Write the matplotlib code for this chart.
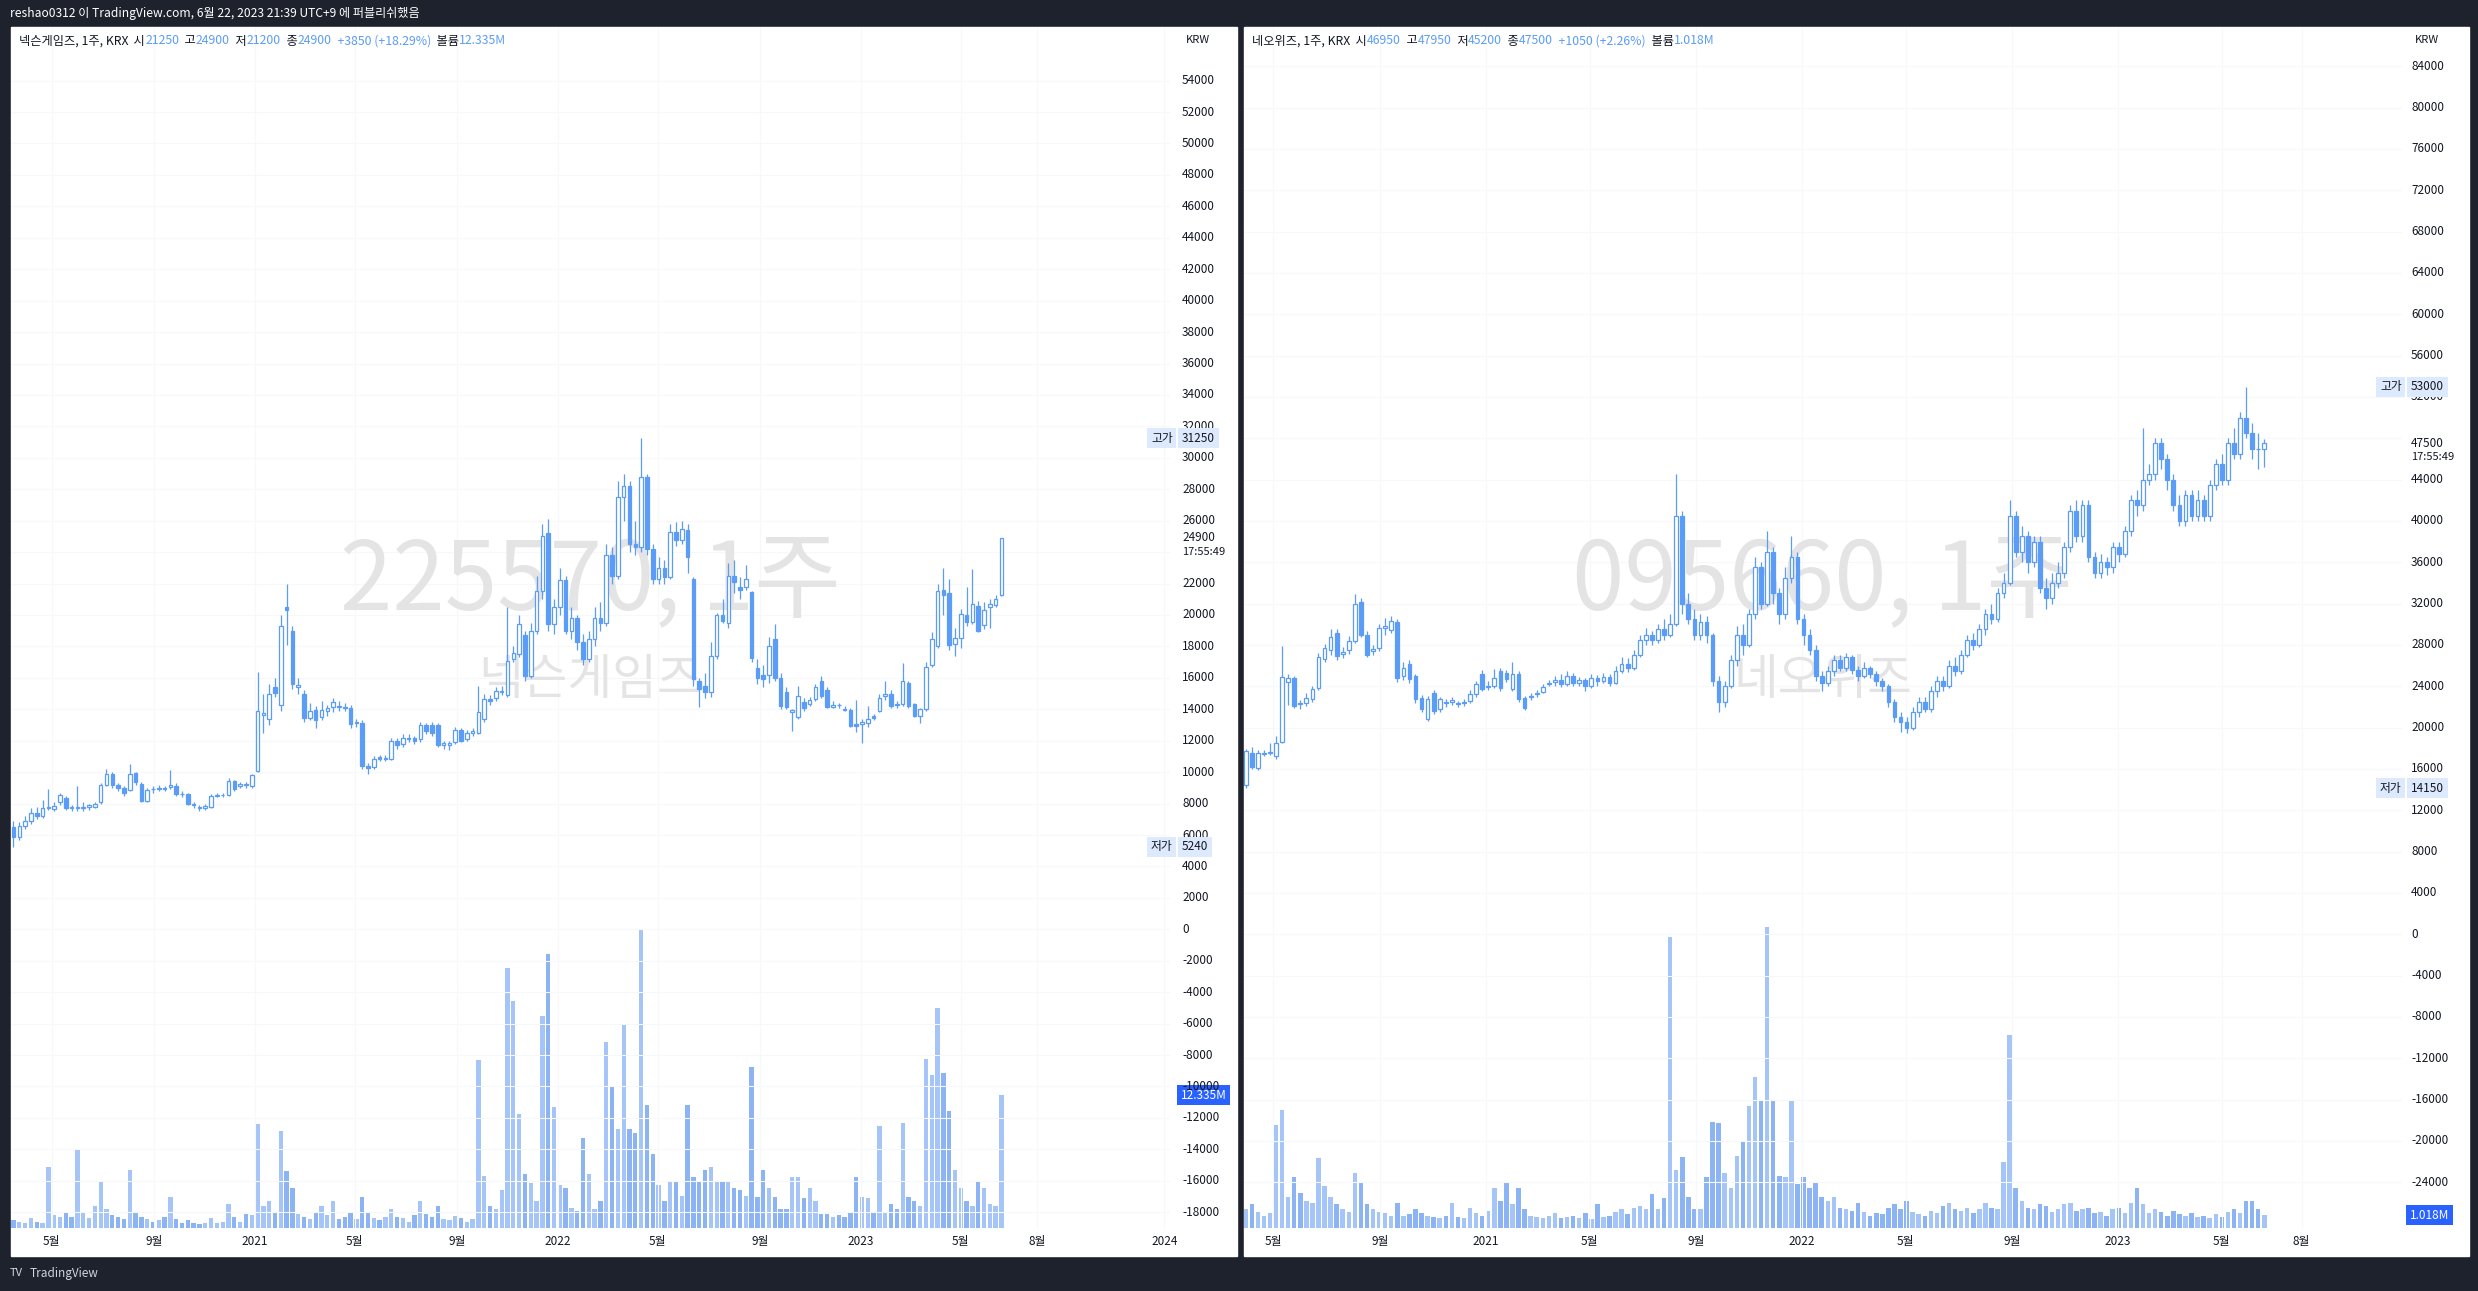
import matplotlib
matplotlib.use("Agg")
import matplotlib.pyplot as plt
import matplotlib.dates as mdates
from matplotlib.patches import Rectangle
from matplotlib.transforms import IdentityTransform
import numpy as np
import pandas as pd

plt.rcParams['font.family'] = ['Noto Sans CJK KR', 'DejaVu Sans']

# ---------------- 넥슨게임즈 (225570) 주봉 ----------------
l_open = [6500, 5900, 6600, 6900, 7400, 7200, 7700, 7650, 8070, 8380, 7750, 7700, 7700, 7800, 7800, 8100,
          9190, 9910, 9200, 9000, 8880, 9920, 9240, 8190, 8930, 8950, 9000, 9050, 9120, 8620, 8600, 7950,
          7800, 7700, 7800, 8500, 8550, 8550, 9440, 9100, 9250, 9100, 10050, 13650, 13350, 15400, 14270, 20500,
          19000, 15400, 15000, 13460, 13960, 13480, 13900, 14130, 14200, 14150, 14100, 13100, 13150, 10370, 10330, 10950,
          10850, 10850, 12000, 11770, 12100, 12200, 12100, 13000, 13000, 13000, 11750, 11750, 11900, 12700, 12100, 12500,
          12500, 13350, 14650, 14700, 15100, 14930, 17170, 17500, 18700, 16100, 19000, 21500, 25200, 19400, 20500, 22200,
          19000, 19800, 18300, 17200, 18500, 19800, 19500, 23800, 22500, 27500, 28200, 24500, 24300, 28800, 24200, 22300,
          23000, 22400, 25300, 24800, 25400, 22300, 15800, 15450, 15100, 17400, 20000, 19500, 22500, 21800, 21800, 21460,
          16600, 16200, 16200, 18500, 16000, 15100, 13850, 13540, 14480, 14360, 14630, 15830, 15200, 14170, 14300, 14000,
          13940, 13050, 13050, 13100, 13550, 13900, 14850, 15000, 14310, 14360, 15680, 14310, 13580, 14040, 16840, 18000,
          21580, 21430, 18150, 18530, 20000, 19580, 20570, 19370, 20500, 20630, 21250]
l_high = [6900, 6800, 7200, 7700, 7800, 8200, 8950, 8100, 8700, 8500, 7900, 9100, 8100, 8000, 8100, 9300,
          10200, 10000, 9300, 9100, 10500, 10000, 9400, 9000, 9100, 9200, 9100, 10150, 9300, 8800, 8700, 8100,
          7900, 8000, 8600, 8700, 8700, 9600, 9500, 9400, 9400, 9900, 16400, 15000, 15600, 16000, 20000, 22000,
          19300, 16000, 15200, 14400, 14200, 14500, 14300, 14700, 14500, 14400, 14300, 13400, 13300, 10600, 11000, 11100,
          11100, 12200, 12200, 12400, 12400, 12300, 13200, 13100, 13200, 13100, 12000, 12000, 12900, 12800, 12700, 12800,
          15500, 15000, 14900, 15400, 15500, 20500, 18000, 20000, 19000, 19500, 22500, 25800, 26100, 21000, 23000, 22500,
          20500, 20000, 18800, 19000, 20500, 20800, 24500, 24300, 28500, 29000, 28500, 26000, 31250, 29000, 24500, 23700,
          23500, 25800, 25900, 26000, 25800, 22400, 16000, 16300, 18300, 20100, 21000, 23300, 23500, 22400, 23200, 21500,
          17200, 16800, 18600, 19400, 16300, 15400, 14000, 15500, 14700, 14800, 15600, 16100, 15400, 14500, 14400, 14200,
          14100, 14600, 13400, 14200, 13700, 15000, 15800, 15200, 14500, 16950, 15800, 14400, 14100, 17000, 18900, 22000,
          23000, 22300, 19200, 20400, 21800, 22900, 20900, 20800, 21000, 21300, 24900]
l_low = [5240, 5700, 6400, 6700, 7000, 7100, 7600, 7500, 7900, 7600, 7500, 7500, 7500, 7600, 7700, 8000,
         9100, 9000, 8800, 8500, 8800, 9200, 8100, 8100, 8700, 8800, 8800, 8900, 8500, 8400, 7900, 7700,
         7500, 7600, 7700, 8400, 8400, 8500, 8800, 9000, 9000, 9000, 10000, 12500, 13000, 14800, 13900, 18100,
         15300, 15000, 13200, 13300, 12800, 13300, 13600, 13800, 13900, 13900, 12800, 12900, 10200, 9900, 10200, 10700,
         10700, 10800, 11500, 11600, 11900, 11800, 11900, 12400, 12300, 11600, 11500, 11400, 11800, 11900, 12000, 12300,
         12400, 13200, 14300, 14500, 14900, 14800, 17000, 17300, 15800, 16000, 18800, 21000, 19000, 18800, 20000, 18800,
         18500, 17800, 16800, 17000, 18000, 19000, 19300, 22000, 22300, 26000, 24000, 23800, 24000, 23800, 22000, 22000,
         22000, 22300, 24400, 24500, 22650, 15500, 14150, 14700, 14800, 17200, 19500, 19200, 21400, 21000, 21600, 17000,
         15600, 15400, 15700, 15800, 14000, 14000, 12630, 13400, 13900, 14200, 14500, 14700, 14100, 14100, 14100, 13900,
         12900, 12560, 11830, 12900, 13300, 13800, 14600, 14100, 14100, 14200, 14100, 13500, 13100, 13900, 16700, 17900,
         20000, 17800, 17400, 17900, 19300, 19400, 18900, 19100, 19200, 20500, 21200]
l_close = [5900, 6600, 6900, 7400, 7200, 7700, 7750, 7850, 8570, 7700, 7700, 7750, 7800, 7900, 8000, 9200,
           9910, 9190, 9000, 8700, 9870, 9380, 8190, 8860, 8900, 9000, 8950, 9150, 8620, 8580, 7980, 7880,
           7700, 7850, 8500, 8550, 8560, 9440, 8900, 9250, 9150, 9800, 13870, 13750, 15000, 15050, 19300, 20300,
           15600, 15550, 13460, 13900, 13330, 13960, 14100, 14450, 14150, 14100, 13040, 13200, 10370, 10250, 10830, 10850,
           10900, 12000, 11700, 12200, 12200, 12000, 13000, 12600, 12500, 11730, 11850, 11850, 12700, 12000, 12500, 12600,
           13800, 14650, 14550, 15140, 15150, 17100, 17600, 19400, 16100, 19000, 21500, 25000, 19400, 20500, 22200, 19000,
           19800, 18300, 17200, 18500, 19800, 19500, 23800, 22500, 27500, 28200, 24500, 24300, 28800, 24200, 22300, 23000,
           22400, 25300, 24800, 25500, 23700, 15900, 15300, 15070, 17400, 20000, 19600, 22500, 22100, 21600, 22300, 17240,
           16000, 15900, 18000, 16000, 14200, 14170, 13950, 14840, 14100, 14600, 15430, 14840, 14170, 14300, 14250, 13940,
           12950, 12950, 13200, 13400, 13450, 14740, 15000, 14210, 14250, 15830, 14210, 13580, 14040, 16690, 18460, 21520,
           21260, 18100, 18530, 20040, 19580, 20670, 19010, 20320, 20700, 20990, 24900]
l_volume = [0.7, 0.6, 0.5, 0.9, 0.6, 0.5, 5.7, 1.2, 1.0, 1.5, 1.0, 7.3, 1.5, 0.9, 2.0, 4.4,
            1.8, 1.2, 1.0, 0.8, 5.4, 1.5, 1.0, 0.8, 0.6, 0.7, 1.0, 2.9, 0.8, 0.5, 0.7, 0.5,
            0.4, 0.5, 0.9, 0.5, 0.6, 2.2, 1.0, 0.6, 1.3, 1.2, 9.7, 2.0, 2.5, 1.4, 9.0, 5.3,
            3.7, 1.3, 1.0, 0.8, 1.5, 2.0, 1.2, 2.5, 0.8, 1.0, 1.5, 0.8, 2.9, 1.5, 0.9, 0.7,
            1.0, 1.8, 1.0, 0.9, 0.6, 1.2, 2.5, 1.3, 1.0, 2.0, 0.8, 0.7, 1.1, 0.9, 0.6, 0.8,
            15.6, 4.8, 2.0, 1.8, 3.5, 24.2, 21.1, 10.6, 5.0, 4.2, 2.5, 19.7, 25.5, 11.2, 4.0, 3.7,
            1.9, 1.6, 8.4, 5.0, 1.8, 2.5, 17.3, 13.2, 9.2, 18.9, 9.2, 8.8, 27.7, 11.4, 6.9, 4.0,
            2.5, 4.3, 4.3, 3.0, 11.4, 4.7, 4.3, 5.4, 5.7, 4.3, 4.3, 4.3, 3.7, 3.5, 3.0, 15.0,
            2.9, 5.4, 3.7, 2.9, 1.8, 1.8, 4.7, 4.7, 2.8, 3.7, 2.5, 1.3, 1.3, 1.0, 1.2, 1.0,
            1.5, 4.7, 2.9, 2.8, 1.5, 9.5, 1.5, 2.2, 1.8, 9.8, 2.9, 2.5, 2.0, 15.7, 14.2, 20.4,
            14.4, 10.9, 5.4, 3.7, 2.5, 2.0, 4.3, 3.7, 2.2, 2.0, 12.335]

# ---------------- 네오위즈 (095660) 주봉 ----------------
r_open = [14400, 17550, 16100, 17400, 17500, 17230, 18640, 24410, 24830, 22330, 22420, 22800, 23870, 26600, 27460, 29160,
          27100, 27460, 28360, 32140, 29000, 27400, 27720, 29600, 29480, 30190, 24990, 26110, 24990, 22900, 20820, 23390,
          21780, 22450, 22500, 22350, 22350, 22590, 23230, 25150, 23900, 24030, 25470, 25310, 23700, 25210, 22900, 22950,
          23250, 23450, 24200, 24400, 24600, 24200, 25000, 24300, 24600, 24000, 24800, 24500, 24900, 24300, 25500, 26200,
          25800, 27000, 28500, 29000, 28500, 29500, 29000, 30000, 40500, 32000, 30500, 29000, 30200, 29000, 24500, 22500,
          24000, 26500, 29000, 28000, 31000, 35500, 32000, 37000, 33000, 31000, 34500, 36500, 30500, 29000, 27500, 25000,
          24300, 25500, 26500, 25800, 26800, 25600, 25000, 25800, 25200, 24500, 24000, 22500, 21000, 20500, 20000, 21500,
          22500, 21800, 23500, 24500, 24000, 26000, 25500, 27000, 28500, 28000, 29500, 31000, 30500, 33000, 34000, 40500,
          37000, 38500, 36000, 38000, 33500, 32500, 34000, 35000, 37500, 41000, 38500, 41500, 36500, 35000, 36000, 35500,
          37500, 36800, 39000, 42000, 41500, 44000, 44500, 47500, 46000, 44000, 41500, 40000, 42500, 40500, 42000, 40500,
          43500, 45500, 44000, 47500, 46500, 50000, 48500, 47000, 46950]
r_high = [17900, 18100, 17800, 17800, 18500, 19200, 27900, 25150, 25000, 22700, 23300, 24000, 27200, 28100, 29500, 29500,
          27800, 28900, 32900, 32500, 29300, 28000, 30000, 30600, 30800, 30500, 26300, 26500, 25200, 23200, 23100, 23600,
          23000, 22800, 23000, 22600, 22800, 23600, 24500, 25600, 24500, 25700, 25800, 25600, 26300, 25500, 23100, 23300,
          23600, 24200, 24600, 25000, 25200, 25500, 25300, 24900, 24800, 25200, 25100, 25300, 25200, 26000, 26800, 26700,
          27500, 29000, 29600, 29300, 30000, 30500, 31000, 44500, 41000, 33000, 31500, 31000, 30800, 29200, 25000, 24500,
          27000, 29800, 30000, 31500, 36500, 36000, 39000, 37500, 33500, 35500, 38500, 37000, 31000, 29500, 28000, 25500,
          26000, 27000, 27000, 27200, 27000, 26000, 26300, 26000, 25500, 24800, 24200, 22800, 21500, 21000, 22000, 23000,
          23000, 24000, 25000, 25000, 26500, 26800, 27500, 29000, 29200, 30000, 31500, 32000, 33500, 35000, 42000, 41000,
          39500, 39000, 38500, 38500, 34500, 35000, 36000, 38000, 41500, 42000, 42000, 42000, 37000, 36800, 36500, 38000,
          38000, 39500, 42500, 43000, 49000, 45500, 48000, 48000, 46500, 44500, 42500, 43000, 43000, 43000, 42500, 44000,
          46000, 46500, 48000, 49000, 50500, 53000, 49500, 48500, 47950]
r_low = [14150, 15950, 15900, 17200, 17300, 17000, 18500, 22200, 21900, 21800, 22100, 22500, 23600, 26300, 27000, 26500,
         26700, 27100, 28200, 28800, 26800, 27000, 27400, 29000, 29200, 24400, 24600, 24300, 22400, 21500, 20600, 21300,
         21500, 22000, 22200, 22000, 22100, 22400, 23000, 23500, 23600, 23800, 23500, 24400, 23500, 22500, 21700, 22700,
         23000, 23300, 24000, 24000, 23900, 24000, 24000, 24000, 23500, 23800, 24000, 24300, 24000, 24200, 25300, 25400,
         25600, 26800, 28000, 28000, 28200, 28500, 28800, 29800, 31000, 30000, 28500, 28500, 28200, 24000, 21500, 22000,
         23800, 26000, 27000, 27800, 30500, 31500, 31800, 32000, 30000, 30500, 34000, 30000, 28000, 27000, 24500, 23500,
         24000, 25000, 25500, 25500, 25200, 24500, 24800, 24800, 24000, 23500, 22000, 20500, 19600, 19500, 19800, 21000,
         21500, 21500, 23000, 23500, 23800, 25000, 25200, 26800, 27500, 27800, 29000, 30000, 30200, 32500, 33800, 36500,
         36000, 35000, 35500, 33000, 31500, 32000, 33500, 34500, 37000, 38000, 38000, 36000, 34500, 34500, 34800, 35000,
         36000, 36500, 38500, 40500, 41000, 43500, 44000, 45000, 43000, 41000, 39500, 39500, 40000, 40000, 40000, 40000,
         43000, 43500, 43500, 46000, 46000, 48000, 46000, 45000, 45200]
r_close = [17700, 16170, 17550, 17500, 17600, 18480, 24930, 24830, 22100, 22300, 22900, 23700, 26850, 27720, 28770, 26910,
           27300, 28390, 31950, 29000, 27070, 27600, 29640, 29800, 30340, 24800, 25790, 24670, 22800, 21780, 22810, 21620,
           22740, 22350, 22700, 22250, 22450, 23230, 24190, 23770, 24050, 24760, 23870, 24670, 25150, 22740, 21940, 23060,
           23350, 23930, 24300, 24600, 24200, 25000, 24300, 24600, 24000, 24800, 24500, 24900, 24300, 25500, 26200, 25800,
           27000, 28500, 29000, 28500, 29500, 29000, 30000, 40500, 32000, 30500, 29000, 30200, 29000, 24500, 22500, 24000,
           26500, 29000, 28000, 31000, 35500, 32000, 37000, 33000, 31000, 34500, 36500, 30500, 29000, 27500, 25000, 24300,
           25500, 26500, 25800, 26800, 25600, 25000, 25800, 25200, 24500, 24000, 22500, 21000, 20500, 20000, 21500, 22500,
           21800, 23500, 24500, 24000, 26000, 25500, 27000, 28500, 28000, 29500, 31000, 30500, 33000, 34000, 40500, 37000,
           38500, 36000, 38000, 33500, 32500, 34000, 35000, 37500, 41000, 38500, 41500, 36500, 35000, 36000, 35500, 37500,
           36800, 39000, 42000, 41500, 44000, 44500, 47500, 46000, 44000, 41500, 40000, 42500, 40500, 42000, 40500, 43500,
           45500, 44000, 47500, 46500, 50000, 48500, 47000, 46950, 47500]
r_volume = [1.5, 1.9, 1.3, 1.0, 1.2, 8.3, 9.5, 2.5, 4.1, 2.8, 2.2, 2.0, 5.6, 3.4, 2.5, 1.9,
            1.5, 1.3, 4.4, 3.7, 1.9, 1.5, 1.3, 1.2, 1.0, 2.0, 1.0, 1.1, 1.5, 1.2, 1.0, 0.9,
            0.8, 1.0, 2.0, 0.9, 0.8, 1.6, 1.2, 1.0, 1.4, 3.2, 2.2, 3.7, 1.9, 3.2, 1.5, 1.0,
            0.9, 0.8, 1.0, 1.2, 0.8, 0.9, 1.0, 0.8, 1.2, 0.7, 1.9, 0.9, 1.0, 1.3, 1.5, 1.1,
            1.6, 1.8, 1.5, 2.7, 1.5, 2.4, 23.4, 4.7, 5.7, 2.5, 1.5, 1.5, 4.1, 8.5, 8.4, 4.4,
            3.2, 5.8, 7.0, 9.8, 12.1, 10.2, 24.2, 10.2, 4.2, 4.1, 10.2, 3.5, 4.1, 3.2, 3.7, 2.5,
            2.2, 2.5, 1.6, 1.5, 1.4, 2.0, 1.3, 1.0, 1.2, 1.1, 1.6, 1.9, 1.5, 2.2, 1.3, 1.1,
            1.0, 1.4, 1.2, 1.8, 2.0, 1.5, 1.4, 1.6, 1.2, 1.5, 2.0, 1.6, 1.5, 5.3, 15.5, 3.2,
            2.2, 1.6, 1.5, 1.9, 1.8, 1.3, 1.5, 1.9, 2.0, 1.4, 1.5, 1.6, 1.2, 1.3, 1.0, 1.5,
            1.6, 1.2, 2.0, 3.2, 1.9, 1.2, 1.5, 1.3, 1.0, 1.4, 1.1, 1.0, 1.2, 0.9, 1.0, 0.8,
            1.1, 0.9, 1.3, 1.5, 1.2, 2.2, 2.2, 1.5, 1.018]

time_labels_l = [("2020-05-01", "5월"), ("2020-09-01", "9월"), ("2021-01-01", "2021"), ("2021-05-01", "5월"),
                 ("2021-09-01", "9월"), ("2022-01-01", "2022"), ("2022-05-01", "5월"), ("2022-09-01", "9월"),
                 ("2023-01-01", "2023"), ("2023-05-01", "5월"), ("2023-08-01", "8월"), ("2024-01-01", "2024")]
time_labels_r = time_labels_l[:-1]

W, H = 2478, 1291
BLUE = "#5b9cf6"
DARK = "#131722"
fig = plt.figure(figsize=(W / 100, H / 100), dpi=100, facecolor="#1e222d")


def rect(x0, y0, x1, y1, color):
    fig.add_artist(Rectangle((x0 / W, 1 - y1 / H), (x1 - x0) / W, (y1 - y0) / H,
                             transform=fig.transFigure, color=color, zorder=0))


def pieces(x, y, parts, size):
    # texto con colores distintos, en pixeles
    r = fig.canvas.get_renderer()
    for s, c in parts:
        t = fig.text(x, H - y, s, color=c, fontsize=size, va="center", transform=IdentityTransform())
        x += t.get_window_extent(r).width


def panel(x0, x1, ax_x, start, o, h, l, c, v, ylo, yhi, vtop, ticks, tlabels, xl, name, code,
          legend, hi_lbl, lo_lbl, last, vlabel, hide):
    rect(x0, 27, x1 + 67, 1256, "white")
    ax = fig.add_axes([x0 / W, 1 - 1228 / H, (x1 - x0) / W, (1228 - 27) / H])
    vax = ax.twinx()
    ax.set_zorder(2)
    vax.set_zorder(1)
    ax.patch.set_alpha(0)
    for a in (ax, vax):
        a.set_xticks([])
        a.set_yticks([])
        for sp in a.spines.values():
            sp.set_visible(False)

    d = mdates.date2num(pd.date_range(start, periods=len(c), freq="7D"))
    o, h, l, c, v = map(np.array, (o, h, l, c, v))
    up = c >= o

    # volumen
    vax.bar(d, v, width=5.2, color=np.where(up, "#a5c4f7", "#8cb3f4"), linewidth=0)
    vax.set_ylim(0, vtop)

    # cuadricula
    for t in ticks:
        ax.axhline(t, color="#f7f8fb", lw=0.8, zorder=0.5)
    for dt, _ in tlabels:
        ax.axvline(mdates.datestr2num(dt), color="#f7f8fb", lw=0.8, zorder=0.5)

    # marca de agua
    ax.text(0.5, 0.538, f"{code}, 1주", transform=ax.transAxes, ha="center", va="center",
            fontsize=68, color="#e4e4e4", zorder=0.6)
    ax.text(0.5, 0.456, name, transform=ax.transAxes, ha="center", va="center",
            fontsize=35, color="#e4e4e4", zorder=0.6)

    # velas
    ax.vlines(d, l, h, color=BLUE, lw=0.9, zorder=2)
    ax.bar(d, np.maximum(np.abs(c - o), 1), bottom=np.minimum(o, c), width=4.3,
           color=np.where(up, "white", BLUE), edgecolor=BLUE, linewidth=0.9, zorder=3)

    ax.set_xlim(mdates.datestr2num(xl[0]), mdates.datestr2num(xl[1]))
    ax.set_ylim(ylo, yhi)

    # eje de precios
    ya = ax.get_yaxis_transform()
    tx = (ax_x - x0) / (x1 - x0)
    for t in ticks:
        if t in hide:
            continue
        ax.text(tx, t, str(t), transform=ya, fontsize=8.5, color=DARK, va="center", clip_on=False)
    ax.text(tx + 0.003, 0.989, "KRW", transform=ax.transAxes, fontsize=8, color=DARK,
            va="center", clip_on=False)
    xa = ax.get_xaxis_transform()
    for dt, s in tlabels:
        ax.text(mdates.datestr2num(dt), -0.011, s, transform=xa, fontsize=8.5, color=DARK,
                ha="center", va="center", clip_on=False)

    box = dict(boxstyle="square,pad=0.3", fc="#dde9fc", ec="none")
    for lbl, val in (("고가", hi_lbl), ("저가", lo_lbl)):
        ax.text(tx - 0.008, val, lbl, transform=ya, fontsize=8.5, color=DARK, ha="right",
                va="center", bbox=box, clip_on=False)
        ax.text(tx, val, str(val), transform=ya, fontsize=8.5, color=DARK, va="center",
                bbox=box, clip_on=False)
    ax.text(tx, last, str(last), transform=ya, fontsize=8.5, color=DARK,
            va="center", clip_on=False)
    ax.text(tx, last - (yhi - ylo) * 0.0115, "17:55:49", transform=ya, fontsize=8, color=DARK,
            va="center", clip_on=False)
    vya = vax.get_yaxis_transform()
    vax.text(tx - 0.001, v[-1], vlabel, transform=vya, fontsize=8.5, color="white", va="center",
             bbox=dict(boxstyle="square,pad=0.3", fc="#2962ff", ec="none"), clip_on=False)

    pieces(x0 + 8, 41, legend, 8.8)


def leg(name, vals):
    parts = [(name + ", 1주, KRX", DARK)]
    for k, val in zip(["  시", "  고", "  저", "  종"], vals[:4]):
        parts += [(k, DARK), (val, BLUE)]
    parts += [("  " + vals[4], BLUE), ("  볼륨", DARK), (vals[5], BLUE)]
    return parts


panel(11, 1170, 1182, "2020-03-16", l_open, l_high, l_low, l_close, l_volume,
      -19006, 57412, 111.6, list(range(-18000, 54001, 2000)), time_labels_l,
      ("2020-03-13", "2024-01-08"), "넥슨게임즈", "225570",
      leg("넥슨게임즈", ["21250", "24900", "21200", "24900", "+3850 (+18.29%)", "12.335M"]),
      31250, 5240, 24900, "12.335M", [24000])

panel(1244, 2402, 2411, "2020-03-30", r_open, r_high, r_low, r_close, r_volume,
      -28437, 87808, 96.5, list(range(-24000, 84001, 4000)), time_labels_r,
      ("2020-03-28", "2023-11-25"), "네오위즈", "095660",
      leg("네오위즈", ["46950", "47950", "45200", "47500", "+1050 (+2.26%)", "1.018M"]),
      53000, 14150, 47500, "1.018M", [48000])

# barra superior e inferior
pieces(10, 14, [("reshao0312 이 TradingView.com, 6월 22, 2023 21:39 UTC+9 에 퍼블리쉬했음", "white")], 8.7)
pieces(10, 1273, [("TV", "#d1d4dc")], 8)
pieces(30, 1273, [("TradingView", "#d1d4dc")], 8.5)

fig.savefig("out.png", dpi=100, facecolor=fig.get_facecolor())
